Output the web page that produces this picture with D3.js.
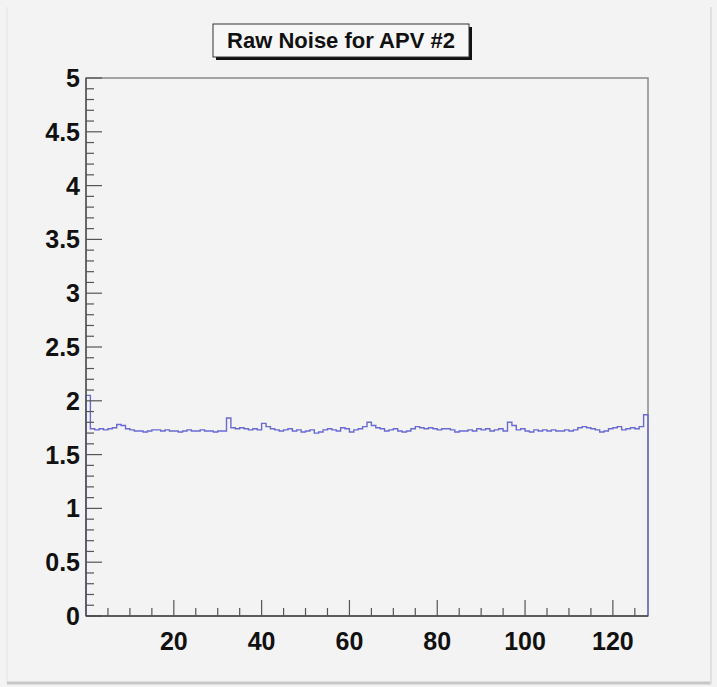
<!DOCTYPE html>
<html><head><meta charset="utf-8">
<script src="https://cdn.jsdelivr.net/npm/d3@7"></script>
<style>body{margin:0;background:#fff}svg{display:block}</style>
</head><body>
<script>
const title = "Raw Noise for APV #2";
const nBins = 128;
const noise = [
 2.05,1.74,1.73,1.74,1.73,1.74,1.75,1.78,1.77,1.74,
 1.73,1.72,1.72,1.71,1.72,1.73,1.73,1.72,1.73,1.72,
 1.72,1.71,1.72,1.73,1.72,1.72,1.73,1.72,1.72,1.71,
 1.72,1.72,1.84,1.75,1.74,1.75,1.74,1.73,1.74,1.73,
 1.79,1.76,1.74,1.73,1.72,1.73,1.74,1.72,1.73,1.71,
 1.72,1.73,1.70,1.71,1.73,1.74,1.73,1.72,1.75,1.74,
 1.71,1.73,1.74,1.76,1.80,1.77,1.75,1.74,1.72,1.73,
 1.74,1.72,1.71,1.72,1.74,1.76,1.75,1.74,1.75,1.74,
 1.73,1.74,1.74,1.73,1.71,1.72,1.72,1.73,1.72,1.74,
 1.73,1.74,1.72,1.73,1.74,1.72,1.80,1.77,1.73,1.74,
 1.72,1.71,1.73,1.72,1.73,1.72,1.73,1.72,1.72,1.73,
 1.72,1.73,1.75,1.76,1.75,1.74,1.73,1.71,1.72,1.74,
 1.75,1.76,1.73,1.74,1.75,1.74,1.76,1.87
];
const yTicks = [0,0.5,1,1.5,2,2.5,3,3.5,4,4.5,5];
const yTickLabels = ["0","0.5","1","1.5","2","2.5","3","3.5","4","4.5","5"];
const xTicks = [20,40,60,80,100,120];

const W = 717, H = 687;
const svg = d3.select("body").append("svg").attr("width", W).attr("height", H);

// canvas background with bevel
svg.append("rect").attr("x",0).attr("y",0).attr("width",W).attr("height",H).attr("fill","#f3f3f3");
svg.append("line").attr("x1",7).attr("x2",7).attr("y1",7).attr("y2",683).attr("stroke","#e4e4e4").attr("stroke-width",1);
svg.append("line").attr("x1",7).attr("x2",711).attr("y1",683).attr("y2",683).attr("stroke","#c8c8c8").attr("stroke-width",3);
svg.append("line").attr("x1",711).attr("x2",711).attr("y1",7).attr("y2",684).attr("stroke","#e0e0e0").attr("stroke-width",2);

const L = 86, R = 648, T = 78, B = 616;
const x = d3.scaleLinear().domain([0, nBins]).range([L, R]);
const y = d3.scaleLinear().domain([0, 5]).range([B, T]);

// frame
svg.append("rect").attr("x",L).attr("y",T).attr("width",R-L).attr("height",B-T)
  .attr("fill","#f3f3f3").attr("stroke","#8a8a8a").attr("stroke-width",1.5);

// histogram step path
const pts = [[0,0]];
noise.forEach((v,i)=>{ pts.push([i, v]); pts.push([i+1, v]); });
pts.push([nBins, 0]);
svg.append("path").datum(pts)
  .attr("d", d3.line().x(d=>x(d[0])).y(d=>y(d[1])))
  .attr("fill","none").attr("stroke","#6a6ad4").attr("stroke-width",1.4);

// Y axis
const yg = svg.append("g").attr("transform",`translate(${L},0)`);
yg.append("line").attr("x1",0).attr("x2",0).attr("y1",T).attr("y2",B).attr("stroke","#555").attr("stroke-width",1.5);
d3.range(0, 51).forEach(k=>{
  const v = k/10;
  const major = k % 5 === 0;
  yg.append("line").attr("x1",0).attr("x2", major?16:8).attr("y1",y(v)).attr("y2",y(v))
    .attr("stroke","#555").attr("stroke-width",1.2);
});
yg.selectAll("text.yl").data(yTicks).enter().append("text")
  .attr("x",-6).attr("y",d=>y(d)+9).attr("text-anchor","end")
  .attr("font-family","Liberation Sans, Arial, sans-serif").attr("font-weight","bold")
  .attr("font-size",25).attr("fill","#111")
  .text((d,i)=>yTickLabels[i]);

// X axis
const xg = svg.append("g");
xg.append("line").attr("x1",L).attr("x2",R).attr("y1",B).attr("y2",B).attr("stroke","#444").attr("stroke-width",1.5);
d3.range(0, nBins+1, 5).filter(v=>v>0 && v<nBins).forEach(v=>{
  const major = v % 20 === 0;
  xg.append("line").attr("x1",x(v)).attr("x2",x(v)).attr("y1",B).attr("y2",B-(major?16:8))
    .attr("stroke","#555").attr("stroke-width",1.2);
});
xg.selectAll("text.xl").data(xTicks).enter().append("text")
  .attr("x",d=>x(d)).attr("y",B+34).attr("text-anchor","middle")
  .attr("font-family","Liberation Sans, Arial, sans-serif").attr("font-weight","bold")
  .attr("font-size",25).attr("fill","#111")
  .text(d=>d);

// title box
const tb = {x:213, y:24, w:256, h:33};
svg.append("rect").attr("x",tb.x+3).attr("y",tb.y+3).attr("width",tb.w).attr("height",tb.h).attr("fill","#111");
svg.append("rect").attr("x",tb.x).attr("y",tb.y).attr("width",tb.w).attr("height",tb.h)
  .attr("fill","#f7f7f7").attr("stroke","#333").attr("stroke-width",1);
svg.append("text").attr("x",tb.x+tb.w/2).attr("y",tb.y+24).attr("text-anchor","middle")
  .attr("font-family","Liberation Sans, Arial, sans-serif").attr("font-weight","bold")
  .attr("font-size",22).attr("fill","#111").text(title);
</script>
</body></html>
